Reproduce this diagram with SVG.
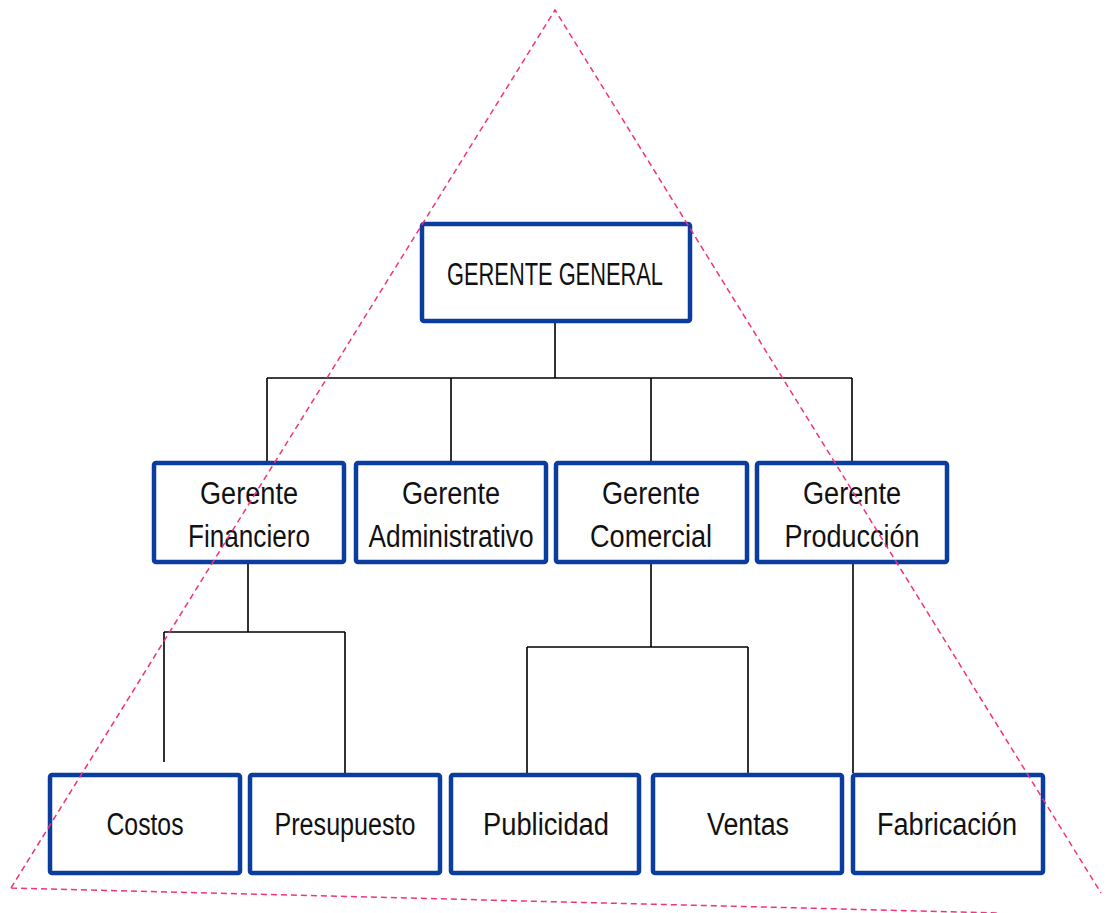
<svg xmlns="http://www.w3.org/2000/svg" width="1107" height="913" viewBox="0 0 1107 913">
<style>
.box{fill:#ffffff;stroke:#0B3D9F;stroke-width:4.5}
.t{font-family:"Liberation Sans Narrow","Liberation Sans",Arial,sans-serif;font-size:31px;fill:#111;text-anchor:middle}
.c{stroke:#000;stroke-width:1.6;fill:none}
.tri{stroke:#F4307F;stroke-width:1.5;fill:none;stroke-dasharray:6 4}
</style>
<rect width="1107" height="913" fill="#ffffff"/>
<g id="connectors">
<path class="c" d="M555 323V378M267 378H852M267 378V461M451 378V461M651 378V461M852 378V461"/>
<path class="c" d="M248 564V632M164 632H345M164 632V762M345 632V773"/>
<path class="c" d="M651 564V647M527 647H748M527 647V773M748 647V773"/>
<path class="c" d="M853 564V773"/>
</g>
<g id="gerente-general"><rect class="box" x="422" y="224" width="268" height="97" rx="2"/><text class="t" x="555" y="285" textLength="216" lengthAdjust="spacingAndGlyphs">GERENTE GENERAL</text></g>
<g id="gerente-financiero"><rect class="box" x="154" y="463" width="190" height="99" rx="2"/><text class="t" x="249" y="504" textLength="98" lengthAdjust="spacingAndGlyphs">Gerente</text><text class="t" x="249" y="547" textLength="122" lengthAdjust="spacingAndGlyphs">Financiero</text></g>
<g id="gerente-administrativo"><rect class="box" x="356" y="463" width="190" height="99" rx="2"/><text class="t" x="451" y="504" textLength="98" lengthAdjust="spacingAndGlyphs">Gerente</text><text class="t" x="451" y="547" textLength="165" lengthAdjust="spacingAndGlyphs">Administrativo</text></g>
<g id="gerente-comercial"><rect class="box" x="556" y="463" width="191" height="99" rx="2"/><text class="t" x="651" y="504" textLength="98" lengthAdjust="spacingAndGlyphs">Gerente</text><text class="t" x="651" y="547" textLength="122" lengthAdjust="spacingAndGlyphs">Comercial</text></g>
<g id="gerente-produccion"><rect class="box" x="757" y="463" width="190" height="99" rx="2"/><text class="t" x="852" y="504" textLength="98" lengthAdjust="spacingAndGlyphs">Gerente</text><text class="t" x="852" y="547" textLength="135" lengthAdjust="spacingAndGlyphs">Producción</text></g>
<g id="costos"><rect class="box" x="50" y="775" width="190" height="98" rx="2"/><text class="t" x="145" y="835" textLength="77" lengthAdjust="spacingAndGlyphs">Costos</text></g>
<g id="presupuesto"><rect class="box" x="250" y="775" width="190" height="98" rx="2"/><text class="t" x="345" y="835" textLength="141" lengthAdjust="spacingAndGlyphs">Presupuesto</text></g>
<g id="publicidad"><rect class="box" x="451" y="775" width="188" height="98" rx="2"/><text class="t" x="546" y="835" textLength="126" lengthAdjust="spacingAndGlyphs">Publicidad</text></g>
<g id="ventas"><rect class="box" x="653" y="775" width="189" height="98" rx="2"/><text class="t" x="748" y="835" textLength="82" lengthAdjust="spacingAndGlyphs">Ventas</text></g>
<g id="fabricacion"><rect class="box" x="853" y="775" width="190" height="98" rx="2"/><text class="t" x="947" y="835" textLength="140" lengthAdjust="spacingAndGlyphs">Fabricación</text></g>
<g id="triangle"><path class="tri" d="M11 888L555 10L1101 893M11 888L1000 913"/></g>
</svg>
